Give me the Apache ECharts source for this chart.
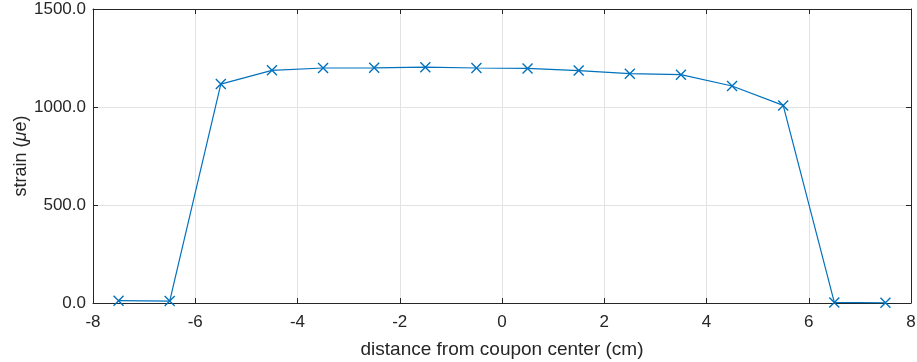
<!DOCTYPE html>
<html>
<head>
<meta charset="utf-8">
<script src="https://cdn.jsdelivr.net/npm/echarts@6/dist/echarts.min.js"></script>
<style>
  html, body { margin: 0; padding: 0; background: #fff; }
  #chart { width: 917px; height: 362px; }
</style>
</head>
<body>
<div id="chart"></div>
<script>
// Gauge positions along the coupon (cm) and measured strain (micro-strain)
const positions = [-7.5, -6.5, -5.5, -4.5, -3.5, -2.5, -1.5, -0.5, 0.5, 1.5, 2.5, 3.5, 4.5, 5.5, 6.5, 7.5];
const strain = [12, 10, 1117, 1187, 1199, 1200, 1203, 1199, 1197, 1186, 1170, 1165, 1107, 1008, 3, 1];

const xTicks = [-8, -6, -4, -2, 0, 2, 4, 6, 8];
const yTicks = [0, 500, 1000, 1500];

const axisColor = '#262626';
const gridColor = '#e3e3e3';
const lineColor = '#0072BD';
const font = 'Liberation Sans, Arial, Helvetica, sans-serif';

const chart = echarts.init(document.getElementById('chart'), null, { renderer: 'canvas' });

// Top and right edges of the box: line plus inward ticks, no labels
const frameAxis = {
  axisLine: { show: true, onZero: false, lineStyle: { color: axisColor, width: 1 } },
  axisTick: { show: true, inside: true, length: 5, lineStyle: { color: axisColor } },
  axisLabel: { show: false },
  splitLine: { show: false }
};

chart.setOption({
  animation: false,
  grid: { left: 93, right: 6, top: 9, bottom: 59, containLabel: false, outerBoundsMode: 'none' },
  xAxis: [
    {
      type: 'value',
      min: xTicks[0], max: xTicks[xTicks.length - 1], interval: 2,
      position: 'bottom',
      name: 'distance from coupon center (cm)',
      nameLocation: 'middle',
      nameGap: 37,
      nameMoveOverlap: false,
      nameTextStyle: { color: axisColor, fontSize: 19, fontFamily: font },
      axisLine: { show: true, onZero: false, lineStyle: { color: axisColor, width: 1 } },
      axisTick: { show: true, inside: true, length: 5, lineStyle: { color: axisColor } },
      axisLabel: { color: axisColor, fontSize: 17, fontFamily: font, margin: 11 },
      splitLine: { show: true, lineStyle: { color: gridColor, width: 1 } }
    },
    Object.assign({
      type: 'value', position: 'top',
      min: xTicks[0], max: xTicks[xTicks.length - 1], interval: 2
    }, frameAxis)
  ],
  yAxis: [
    {
      type: 'value',
      min: yTicks[0], max: yTicks[yTicks.length - 1], interval: 500,
      position: 'left',
      name: 'strain ({mu|μ}e)',
      nameLocation: 'middle',
      nameGap: 63,
      nameMoveOverlap: false,
      nameTextStyle: {
        color: axisColor, fontSize: 18, fontFamily: font,
        rich: { mu: { fontStyle: 'italic', fontSize: 18, color: axisColor, fontFamily: font } }
      },
      axisLine: { show: true, onZero: false, lineStyle: { color: axisColor, width: 1 } },
      axisTick: { show: true, inside: true, length: 5, lineStyle: { color: axisColor } },
      axisLabel: {
        color: axisColor, fontSize: 17, fontFamily: font, margin: 7,
        formatter: v => v.toFixed(1)
      },
      splitLine: { show: true, lineStyle: { color: gridColor, width: 1 } }
    },
    Object.assign({
      type: 'value', position: 'right',
      min: yTicks[0], max: yTicks[yTicks.length - 1], interval: 500
    }, frameAxis)
  ],
  series: [
    {
      type: 'line',
      data: positions.map((p, i) => [p, strain[i]]),
      xAxisIndex: 0, yAxisIndex: 0,
      lineStyle: { color: lineColor, width: 1.2 },
      symbol: 'path://M0,0L10,10M10,0L0,10',
      symbolSize: 10,
      showAllSymbol: true,
      itemStyle: { color: 'none', borderColor: lineColor, borderWidth: 1.4 },
      emphasis: { disabled: true }
    }
  ]
});
</script>
</body>
</html>
